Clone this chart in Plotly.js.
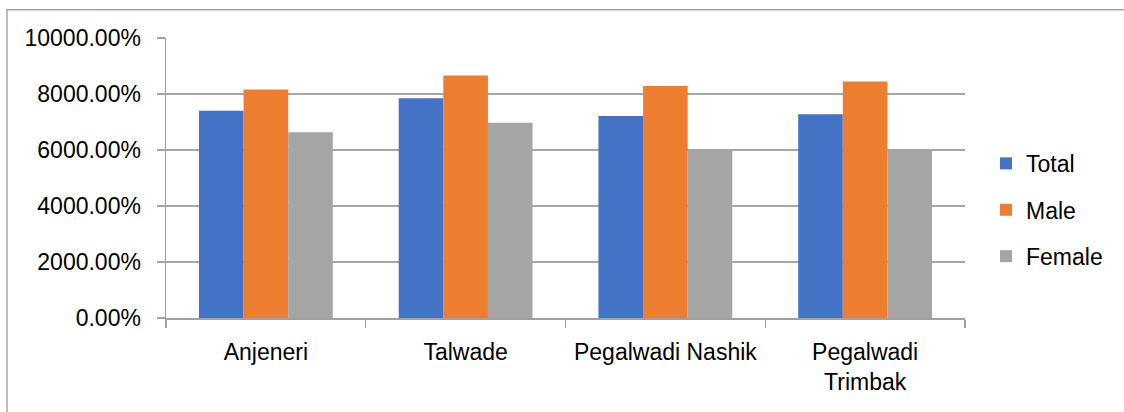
<!DOCTYPE html>
<html>
<head>
<meta charset="utf-8">
<script src="https://cdn.plot.ly/plotly-3.0.1.min.js"></script>
<style>
html,body{margin:0;padding:0;background:#fff;}
#chart{width:1124px;height:412px;}
</style>
</head>
<body>
<div id="chart"></div>
<script>
const categories = ["Anjeneri", "Talwade", "Pegalwadi Nashik", "Pegalwadi<br>Trimbak"];
const seriesNames = ["Total", "Male", "Female"];
const totalValues = [74.0, 78.5, 72.1, 72.8];
const maleValues = [81.6, 86.6, 82.9, 84.5];
const femaleValues = [66.3, 69.7, 60.2, 60.2];
const seriesColors = ["#4472C4", "#ED7D31", "#A5A5A5"];
const yTickValues = [0, 20, 40, 60, 80, 100];

const allValues = [totalValues, maleValues, femaleValues];
const font = {family: "Liberation Sans, Arial, sans-serif", size: 23, color: "#000"};

const traces = seriesNames.map((name, i) => ({
  type: "bar",
  name: name,
  x: categories,
  y: allValues[i],
  legendgroup: name,
  marker: {color: seriesColors[i]},
  hoverinfo: "none"
}));

const plotL = 166, plotR = 965, plotT = 37.7, plotB = 318.3;
const W = 1124, H = 412;
const pw = plotR - plotL, ph = plotB - plotT;

const layout = {
  width: W, height: H,
  margin: {l: plotL, r: W - plotR, t: plotT, b: H - plotB, pad: 0, autoexpand: false},
  paper_bgcolor: "#fff",
  plot_bgcolor: "#fff",
  font: font,
  barmode: "group",
  bargap: 0.33,
  bargroupgap: 0,
  showlegend: true,
  legend: {
    x: (986 - plotL) / pw, xanchor: "left",
    y: (plotB - 210) / ph, yanchor: "middle",
    font: {family: font.family, size: 23, color: "#000"},
    tracegroupgap: 13.5,
    itemwidth: 30,
    bgcolor: "rgba(0,0,0,0)"
  },
  xaxis: {
    type: "category",
    showgrid: false,
    showline: true,
    linecolor: "#a0a0a0",
    linewidth: 1.5,
    ticks: "outside",
    tickson: "boundaries",
    ticklen: 8,
    tickcolor: "#a0a0a0",
    tickwidth: 1.3,
    ticklabelstandoff: 13,
    tickfont: {family: font.family, size: 23, color: "#000"},
    zeroline: false
  },
  yaxis: {
    range: [0, 100],
    tickvals: yTickValues,
    tickformat: ".2%",
    showgrid: true,
    gridcolor: "#a6a6a6",
    gridwidth: 1.3,
    showline: true,
    linecolor: "#a0a0a0",
    linewidth: 1.5,
    ticks: "outside",
    ticklen: 8,
    tickcolor: "#a0a0a0",
    tickwidth: 1.3,
    ticklabelstandoff: 11,
    tickfont: {family: font.family, size: 23, color: "#000"},
    zeroline: false
  },
  shapes: [{
    type: "rect",
    xref: "paper", yref: "paper",
    x0: (7 - plotL) / pw,
    x1: (1135 - plotL) / pw,
    y0: (plotB - 430) / ph,
    y1: (plotB - 9.5) / ph,
    line: {color: "#a6a6a6", width: 1.5},
    fillcolor: "rgba(0,0,0,0)",
    layer: "below"
  }]
};

Plotly.newPlot("chart", traces, layout, {displayModeBar: false, staticPlot: true});
</script>
</body>
</html>
